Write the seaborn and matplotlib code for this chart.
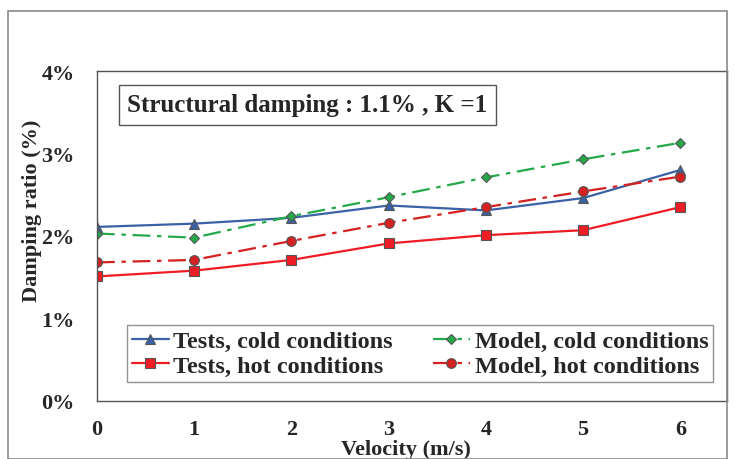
import matplotlib
matplotlib.use("Agg")
import matplotlib.pyplot as plt
import seaborn as sns
import pandas as pd
import numpy as np
from matplotlib.patches import Rectangle
from matplotlib.ticker import MultipleLocator, FuncFormatter

velocity = [0, 1, 2, 3, 4, 5, 6]
tests_cold = [2.11, 2.15, 2.22, 2.37, 2.31, 2.46, 2.80]
model_cold = [2.03, 1.98, 2.24, 2.47, 2.71, 2.93, 3.13]
tests_hot = [1.51, 1.58, 1.71, 1.91, 2.01, 2.07, 2.35]
model_hot = [1.68, 1.71, 1.94, 2.16, 2.35, 2.54, 2.72]
x_ticks = [0, 1, 2, 3, 4, 5, 6]
y_ticks = [0, 1, 2, 3, 4]

sns.set_style("white")
plt.rcParams['font.family'] = ['Liberation Serif', 'DejaVu Serif']
plt.rcParams['font.weight'] = 'bold'

fig = plt.figure(figsize=(7.35, 4.60), dpi=100)
fig.patches.append(Rectangle((8 / 735, 0), 719 / 735, 448 / 460, transform=fig.transFigure,
                             fill=False, edgecolor='#8a8a8a', linewidth=1.2, zorder=0))
ax = fig.add_axes([97 / 735, 58 / 460, 630 / 735, 330 / 460])

series = [
    ("Tests, cold conditions", tests_cold, "#3b62a6", "^", (None, None), 7),
    ("Tests, hot conditions", tests_hot, "#ee1c24", "s", (None, None), 7),
    ("Model, cold conditions", model_cold, "#24a84a", "D", (8, 3, 2, 3), 5),
    ("Model, hot conditions", model_hot, "#d42020", "o", (8, 3, 2, 3), 7),
]
for name, vals, col, mk, dash, ms in series:
    df = pd.DataFrame({"v": velocity, "d": vals})
    sns.lineplot(data=df, x="v", y="d", ax=ax, color=col, marker=mk, markersize=ms,
                 markeredgecolor="#555555", markeredgewidth=0.8, linewidth=1.6,
                 label=name, estimator=None)
    line = ax.get_lines()[-1]
    if dash[0] is not None:
        line.set_dashes(dash)

ax.set_xlim(0, 6.48)
ax.set_ylim(0, 4)
ax.set_xticks(x_ticks)
ax.set_yticks(y_ticks)
ax.xaxis.set_minor_locator(MultipleLocator(0.2))
ax.yaxis.set_minor_locator(MultipleLocator(0.2))
ax.yaxis.set_major_formatter(FuncFormatter(lambda v, p: f"{int(v)}%"))
ax.tick_params(axis='both', which='both', direction='in', length=4, width=0.8, color='#666666')
ax.tick_params(axis='x', which='major', pad=13, labelsize=16)
ax.tick_params(axis='y', which='major', pad=16, labelsize=16)
for s in ax.spines.values():
    s.set_color('#555555')
    s.set_linewidth(1.0)

ax.set_xlabel("Velocity (m/s)", fontsize=16, fontweight='bold')
ax.xaxis.set_label_coords(0.49, -0.115)
ax.xaxis.label.set_va('top')
ax.set_ylabel("Damping ratio (%)", fontsize=16, fontweight='bold')
ax.yaxis.set_label_coords(-0.088, 0.578)

ax.text(0.048, 0.897, "Structural damping : 1.1% , K =1", transform=ax.transAxes,
        fontsize=18, fontweight='bold', va='center', ha='left',
        bbox=dict(boxstyle='square,pad=0.33', facecolor='white', edgecolor='#555555', linewidth=1))

leg = ax.legend(loc='lower left', bbox_to_anchor=(0.048, 0.058, 0.93, 0.18), mode='expand',
                ncol=2, frameon=True, fancybox=False, handlelength=1.5, borderaxespad=0,
                handletextpad=0.2, borderpad=0.2, labelspacing=0.12, columnspacing=1.0,
                prop={'weight': 'bold', 'size': 17.5})
leg.get_frame().set_edgecolor('#777777')
leg.get_frame().set_linewidth(1)

fig.savefig("out.png", dpi=100)
